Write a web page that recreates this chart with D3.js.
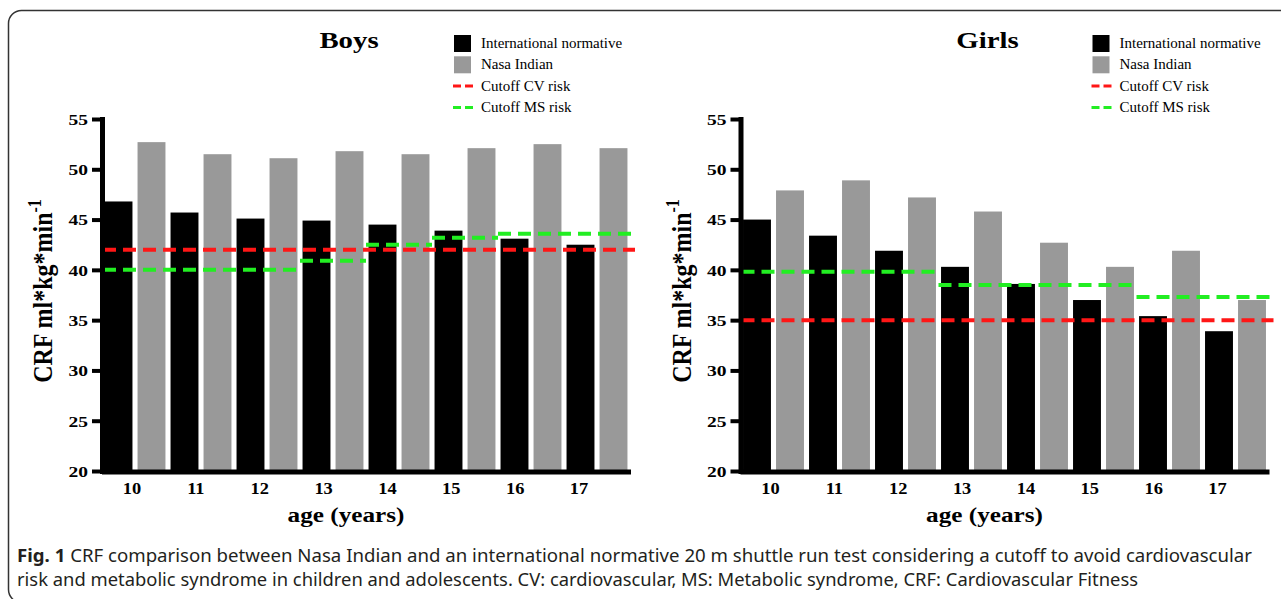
<!DOCTYPE html>
<html>
<head>
<meta charset="utf-8">
<script src="https://cdn.jsdelivr.net/npm/d3@7"></script>
<style>
  html, body { margin: 0; padding: 0; background: #fff; }
  svg { display: block; }
</style>
</head>
<body>
<svg id="chart" width="1281" height="599"></svg>
<script>
// data
const ages = [10, 11, 12, 13, 14, 15, 16, 17];
const yTicks = [20, 25, 30, 35, 40, 45, 50, 55];
const seriesNames = ["International normative", "Nasa Indian"];

const boysIntl = [46.8, 45.7, 45.1, 44.9, 44.5, 43.9, 43.1, 42.5];
const boysNasa = [52.7, 51.5, 51.1, 51.8, 51.5, 52.1, 52.5, 52.1];
const boysCv = 42;
const boysMs = [40, 40, 40, 40.9, 42.5, 43.2, 43.6, 43.6];

const girlsIntl = [45.0, 43.4, 41.9, 40.3, 38.6, 37.0, 35.4, 33.9];
const girlsNasa = [47.9, 48.9, 47.2, 45.8, 42.7, 40.3, 41.9, 37.0];
const girlsCv = 35;
const girlsMs = [39.8, 39.8, 39.8, 38.5, 38.5, 38.5, 37.3, 37.3];

const captionBold = "Fig. 1";
const captionLine1 = " CRF comparison between Nasa Indian and an international normative 20 m shuttle run test considering a cutoff to avoid cardiovascular";
const captionLine2 = "risk and metabolic syndrome in children and adolescents. CV: cardiovascular, MS: Metabolic syndrome, CRF: Cardiovascular Fitness";

const SERIF = '"Liberation Serif", "Times New Roman", serif';
const RED = "#ff1616";
const GREEN = "#22ee22";
const GRAY = "#999999";

const svg = d3.select("#chart");

// frame around the figure
svg.append("rect")
  .attr("x", 8.5).attr("y", 10.5)
  .attr("width", 1300).attr("height", 592)
  .attr("rx", 13)
  .attr("fill", "none")
  .attr("stroke", "#333")
  .attr("stroke-width", 1.5);

const y = d3.scaleLinear().domain([20, 55]).range([471, 119]);

const panels = [
  { title: "Boys", axisX: 102, intl: boysIntl, nasa: boysNasa, cv: boysCv, ms: boysMs },
  { title: "Girls", axisX: 740.5, intl: girlsIntl, nasa: girlsNasa, cv: girlsCv, ms: girlsMs }
];

function msSegments(ms) {
  // group consecutive ages that share the same cutoff
  const segs = [];
  ms.forEach((v, i) => {
    const last = segs[segs.length - 1];
    if (last && last.value === v) last.to = ages[i];
    else segs.push({ value: v, from: ages[i], to: ages[i] });
  });
  return segs;
}

panels.forEach(p => {
  const g = svg.append("g");
  const x0 = d3.scaleBand().domain(ages).range([p.axisX, p.axisX + 528]).padding(0);
  const x1 = d3.scaleBand().domain(seriesNames).range([0, x0.bandwidth()])
    .paddingInner(0.154).paddingOuter(0.077);
  const xLabel = d3.scalePoint().domain(ages).range([p.axisX + 30, p.axisX + 477]);
  const rangeEnd = x0.range()[1];

  const rows = ages.map((a, i) => ({ age: a, vals: [p.intl[i], p.nasa[i]] }));

  // bars
  g.append("g").selectAll("g")
    .data(rows)
    .join("g")
    .attr("transform", d => `translate(${x0(d.age)},0)`)
    .selectAll("rect")
    .data(d => d.vals.map((v, k) => ({ key: seriesNames[k], v })))
    .join("rect")
    .attr("x", d => x1(d.key))
    .attr("y", d => y(d.v))
    .attr("width", x1.bandwidth())
    .attr("height", d => y(20) - y(d.v))
    .attr("fill", d => d.key === seriesNames[0] ? "#000" : GRAY);

  // cutoff lines
  g.append("line")
    .attr("x1", p.axisX + 1).attr("x2", rangeEnd + 5)
    .attr("y1", y(p.cv)).attr("y2", y(p.cv))
    .attr("stroke", RED).attr("stroke-width", 4)
    .attr("stroke-dasharray", "13,7");

  const segs = msSegments(p.ms);
  g.append("g").selectAll("line")
    .data(segs)
    .join("line")
    .attr("x1", d => x0(d.from) + (d.from === ages[0] ? 1 : 0))
    .attr("x2", (d, i) => x0(d.to) + x0.bandwidth() + (i === segs.length - 1 ? 3 : 0))
    .attr("y1", d => y(d.value)).attr("y2", d => y(d.value))
    .attr("stroke", GREEN).attr("stroke-width", 4)
    .attr("stroke-dasharray", "13,7");

  // y axis
  const yAxis = g.append("g")
    .attr("transform", `translate(${p.axisX},0)`)
    .call(d3.axisLeft(y).tickValues(yTicks).tickSize(10).tickSizeOuter(0).tickPadding(4));
  yAxis.select(".domain").attr("stroke", "#000").attr("stroke-width", 5).attr("stroke-linecap", "square");
  yAxis.selectAll(".tick line").attr("stroke", "#000").attr("stroke-width", 4);
  yAxis.selectAll(".tick text")
    .attr("x", 0).attr("dy", "0.36em")
    .attr("transform", "translate(-14,0) scale(1.3,1)")
    .attr("fill", "#000")
    .style("font-family", SERIF).style("font-weight", "bold").style("font-size", "15px");

  // x axis baseline
  g.append("line")
    .attr("x1", p.axisX).attr("x2", rangeEnd + 1)
    .attr("y1", y(20) + 1).attr("y2", y(20) + 1)
    .attr("stroke", "#000").attr("stroke-width", 5);

  // x tick labels
  g.append("g").selectAll("text")
    .data(ages)
    .join("text")
    .attr("transform", d => `translate(${xLabel(d)},494) scale(1.15,1)`)
    .attr("text-anchor", "middle")
    .style("font-family", SERIF).style("font-weight", "bold").style("font-size", "16px")
    .text(d => d);

  // axis titles
  g.append("text")
    .attr("transform", `translate(${p.axisX + 244},522) scale(1.2,1)`)
    .attr("text-anchor", "middle")
    .style("font-family", SERIF).style("font-weight", "bold").style("font-size", "21px")
    .text("age (years)");

  const yt = g.append("text")
    .attr("transform", `translate(${p.axisX - 50},291) rotate(-90) scale(1,1.12)`)
    .attr("text-anchor", "middle")
    .style("font-family", SERIF).style("font-weight", "bold").style("font-size", "24px");
  yt.append("tspan").text("CRF ml*kg*min");
  yt.append("tspan").attr("dy", -10).style("font-size", "16px").text("-1");

  // panel title
  g.append("text")
    .attr("transform", `translate(${p.axisX + 247},48) scale(1.2,1)`)
    .attr("text-anchor", "middle")
    .style("font-family", SERIF).style("font-weight", "bold").style("font-size", "24px")
    .text(p.title);

  // legend
  const lx = p.axisX + 352;
  const legendRows = [
    { label: seriesNames[0], type: "box", color: "#000" },
    { label: seriesNames[1], type: "box", color: GRAY },
    { label: "Cutoff CV risk", type: "dash", color: RED },
    { label: "Cutoff MS risk", type: "dash", color: GREEN }
  ];
  const lg = g.append("g");
  legendRows.forEach((r, i) => {
    const by = 48 + i * 21.3;
    if (r.type === "box") {
      lg.append("rect").attr("x", lx).attr("y", by - 13)
        .attr("width", 17).attr("height", 17).attr("fill", r.color);
    } else {
      lg.append("line").attr("x1", lx - 1).attr("x2", lx + 19)
        .attr("y1", by - 4.5).attr("y2", by - 4.5)
        .attr("stroke", r.color).attr("stroke-width", 3)
        .attr("stroke-dasharray", "8,4");
    }
    lg.append("text").attr("x", lx + 27).attr("y", by)
      .style("font-family", SERIF).style("font-size", "15px")
      .text(r.label);
  });
});

// caption
const cap1 = svg.append("text")
  .attr("x", 17).attr("y", 562)
  .attr("textLength", 1235).attr("lengthAdjust", "spacingAndGlyphs")
  .attr("fill", "#231f20")
  .style("font-family", '"Noto Sans", "Open Sans", sans-serif').style("font-size", "18px");
cap1.append("tspan").style("font-weight", "bold").text(captionBold);
cap1.append("tspan").text(captionLine1);

svg.append("text")
  .attr("x", 17).attr("y", 586)
  .attr("textLength", 1121).attr("lengthAdjust", "spacingAndGlyphs")
  .attr("fill", "#231f20")
  .style("font-family", '"Noto Sans", "Open Sans", sans-serif').style("font-size", "18px")
  .text(captionLine2);
</script>
</body>
</html>
